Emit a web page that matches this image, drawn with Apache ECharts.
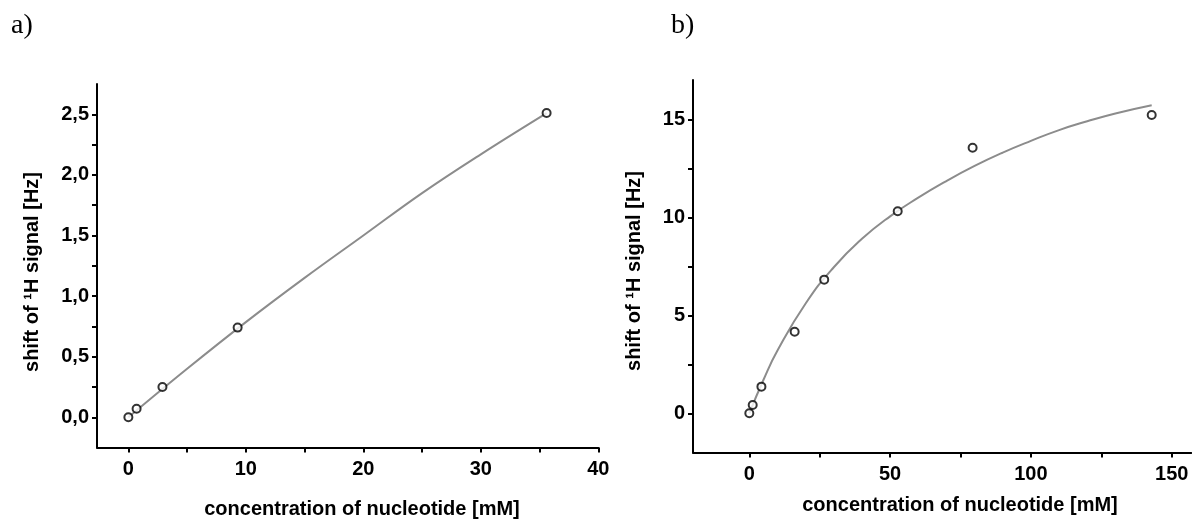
<!DOCTYPE html>
<html>
<head>
<meta charset="utf-8">
<script src="https://cdn.jsdelivr.net/npm/echarts@6/dist/echarts.min.js"></script>
<style>
  html, body { margin: 0; padding: 0; background: #fff; }
  #chart { width: 1192px; height: 520px; }
</style>
</head>
<body>
<div id="chart"></div>
<script>
// Panel a) – measured points and fitted curve
const concA = [0, 0.7, 2.9, 9.3, 35.6];
const shiftA = [0, 0.07, 0.25, 0.74, 2.51];
const fitConcA = [0, 5, 10, 15, 20, 25, 30, 35.6];
const fitShiftA = [0, 0.40, 0.785, 1.15, 1.50, 1.85, 2.17, 2.51];

// Panel b) – measured points and fitted curve
const concB = [0, 1.2, 4.3, 16.1, 26.6, 52.7, 79.3, 142.9];
const shiftB = [0, 0.42, 1.36, 4.16, 6.82, 10.31, 13.55, 15.22];
const fitConcB = [0, 5, 10, 20, 30, 40, 50, 60, 70, 80, 90, 100, 110, 120, 130, 142.9];
const fitShiftB = [0, 1.7, 3.2, 5.6, 7.45, 8.9, 10.05, 11.0, 11.85, 12.62, 13.3, 13.9, 14.45, 14.9, 15.3, 15.72];

// Axis ticks and labels
const xTicksA = [0, 5, 10, 15, 20, 25, 30, 35, 40];
const xLabelsA = [0, 10, 20, 30, 40];
const yTicksA = [0, 0.25, 0.5, 0.75, 1, 1.25, 1.5, 1.75, 2, 2.25, 2.5];
const yLabelsA = [0, 0.5, 1, 1.5, 2, 2.5];
const xTicksB = [0, 25, 50, 75, 100, 125, 150];
const xLabelsB = [0, 50, 100, 150];
const yTicksB = [0, 2.5, 5, 7.5, 10, 12.5, 15];
const yLabelsB = [0, 5, 10, 15];

const xTitle = 'concentration of nucleotide [mM]';
const yTitle = 'shift of \u00B9H signal [Hz]';

const pairs = (xs, ys) => xs.map((x, i) => [x, ys[i]]);

const FONT = '"Liberation Sans", Arial, sans-serif';
const labelStyle = { color: '#000', fontFamily: FONT, fontWeight: 'bold', fontSize: 20 };

function valueAxis(gridIndex, min, max, ticks, labels, isX, fmt) {
  return {
    type: 'value',
    gridIndex,
    min, max,
    axisLine: { show: true, onZero: false, lineStyle: { color: '#000', width: 2 } },
    axisTick: { show: true, length: 5, customValues: ticks, lineStyle: { color: '#000', width: 2 } },
    axisLabel: Object.assign({
      customValues: labels,
      margin: isX ? 12 : 8,
      formatter: fmt
    }, labelStyle),
    splitLine: { show: false }
  };
}

const comma = v => v.toFixed(1).replace('.', ',');
const plain = v => String(v);

const chart = echarts.init(document.getElementById('chart'), null, { renderer: 'canvas' });

const titleStyle = { fill: '#000', font: 'bold 20px ' + FONT, textAlign: 'center', textVerticalAlign: 'middle' };
const panelFont = '28px "Liberation Serif", "Times New Roman", serif';

chart.setOption({
  animation: false,
  backgroundColor: '#fff',
  grid: [
    { left: 97, top: 84, width: 501.3, height: 363.6, outerBoundsMode: 'none' },
    { left: 693, top: 80.1, width: 498.4, height: 372.4, outerBoundsMode: 'none' }
  ],
  xAxis: [
    valueAxis(0, -2.67, 40, xTicksA, xLabelsA, true, plain),
    valueAxis(1, -20, 157, xTicksB, xLabelsB, true, plain)
  ],
  yAxis: [
    valueAxis(0, -0.25, 2.75, yTicksA, yLabelsA, false, comma),
    valueAxis(1, -2, 17, yTicksB, yLabelsB, false, plain)
  ],
  series: [
    {
      type: 'line', xAxisIndex: 0, yAxisIndex: 0,
      data: pairs(fitConcA, fitShiftA), smooth: 0.4, showSymbol: false,
      lineStyle: { color: '#8c8c8c', width: 2 }, z: 2
    },
    {
      type: 'scatter', xAxisIndex: 0, yAxisIndex: 0,
      data: pairs(concA, shiftA), symbol: 'circle', symbolSize: 8,
      itemStyle: { color: '#fff', borderColor: '#000', borderWidth: 2 }, z: 3
    },
    {
      type: 'line', xAxisIndex: 1, yAxisIndex: 1,
      data: pairs(fitConcB, fitShiftB), smooth: 0.5, showSymbol: false,
      lineStyle: { color: '#8c8c8c', width: 2 }, z: 2
    },
    {
      type: 'scatter', xAxisIndex: 1, yAxisIndex: 1,
      data: pairs(concB, shiftB), symbol: 'circle', symbolSize: 8,
      itemStyle: { color: '#fff', borderColor: '#000', borderWidth: 2 }, z: 3
    }
  ],
  graphic: [
    { type: 'text', left: 11, top: 12, style: { text: 'a)', fill: '#000', font: panelFont } },
    { type: 'text', left: 671, top: 12, style: { text: 'b)', fill: '#000', font: panelFont } },
    { type: 'text', x: 362, y: 509, style: Object.assign({ text: xTitle }, titleStyle) },
    { type: 'text', x: 960, y: 505, style: Object.assign({ text: xTitle }, titleStyle) },
    { type: 'text', x: 32, y: 272, rotation: Math.PI / 2, style: Object.assign({ text: yTitle }, titleStyle) },
    { type: 'text', x: 634, y: 271, rotation: Math.PI / 2, style: Object.assign({ text: yTitle }, titleStyle) }
  ]
});
</script>
</body>
</html>
